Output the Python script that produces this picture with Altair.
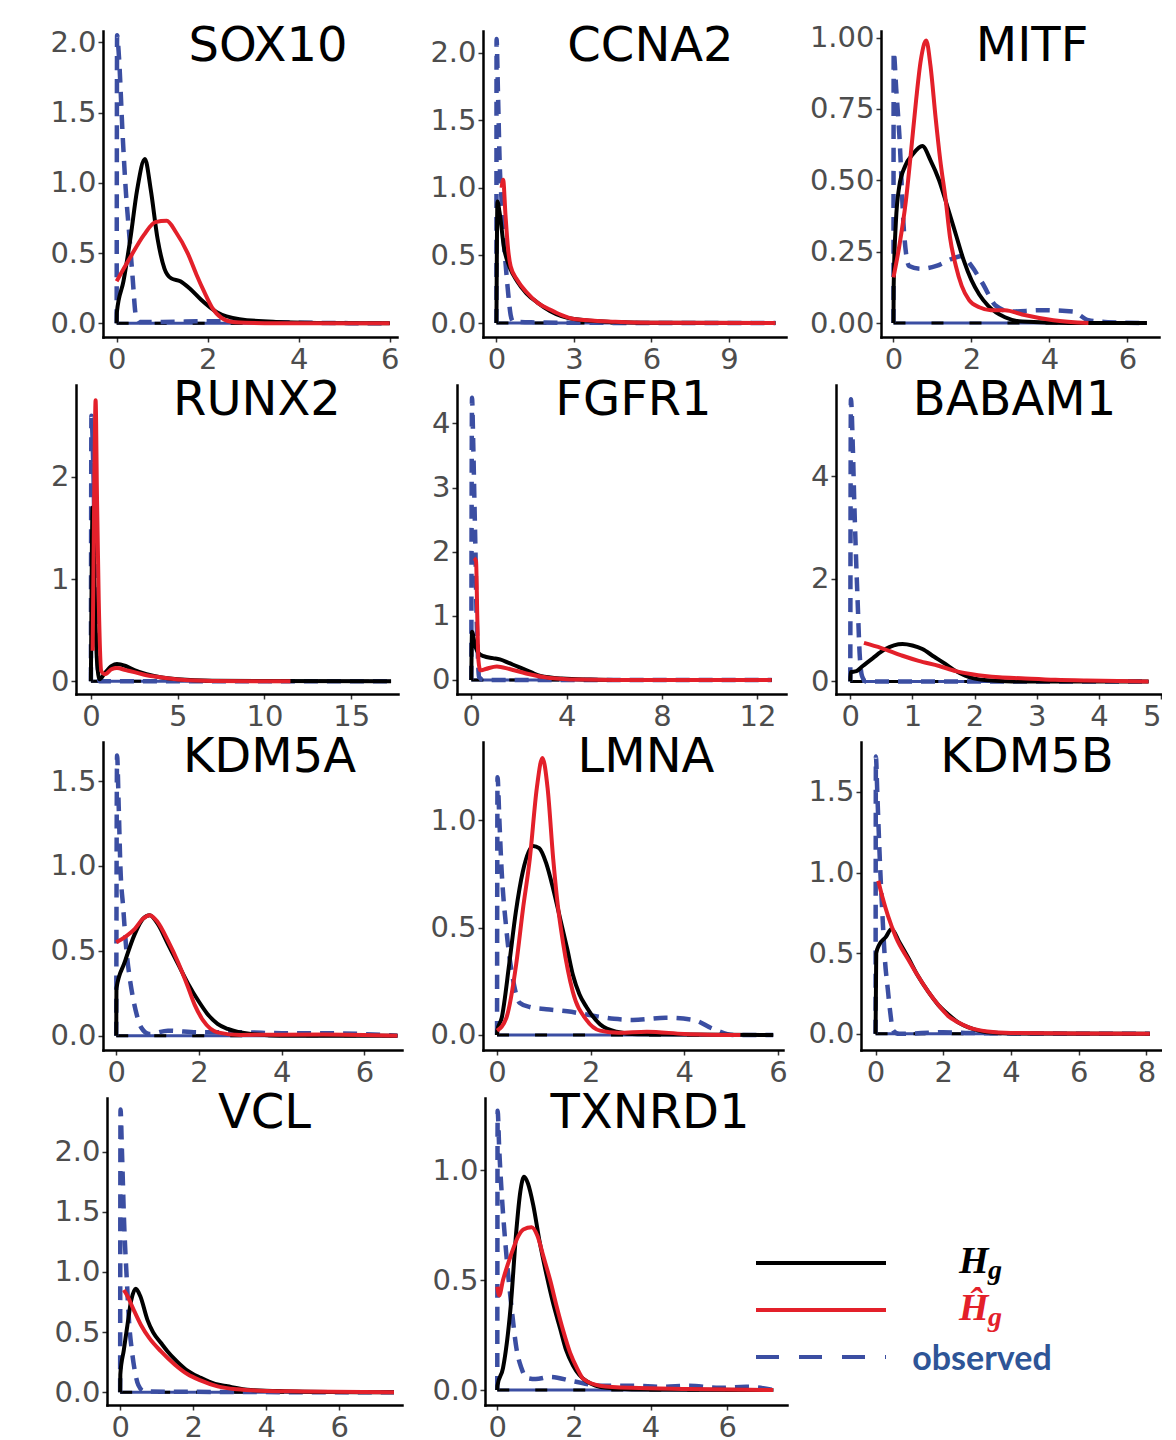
import altair as alt
import pandas as pd

# ---------------- data ----------------
GENES = ["SOX10", "CCNA2", "MITF", "RUNX2", "FGFR1", "BABAM1",
         "KDM5A", "LMNA", "KDM5B", "VCL", "TXNRD1"]

SOX10_OBS = [(0, 0), (0.01, 2.05), (0.05, 1.9), (0.13, 1.35), (0.2, 0.95), (0.28, 0.62), (0.35, 0.33),
             (0.42, 0.06), (0.5, 0.01), (1.0, 0.01), (2.0, 0.015), (3.0, 0.01), (4.0, 0.005), (6.0, 0.0)]
SOX10_HG = [(0, 0), (0.005, 0.08), (0.15, 0.3), (0.3, 0.6), (0.45, 0.95), (0.62, 1.17), (0.75, 0.95), (0.9, 0.6),
            (1.05, 0.39), (1.2, 0.32), (1.4, 0.3), (1.6, 0.25), (1.85, 0.17), (2.2, 0.08), (2.7, 0.03),
            (3.5, 0.01), (4.5, 0.003), (6.0, 0.0)]
SOX10_HHAT = [(0, 0.3), (0.3, 0.47), (0.6, 0.63), (0.85, 0.72), (1.1, 0.73), (1.3, 0.65), (1.56, 0.5),
              (1.75, 0.35), (1.93, 0.22), (2.1, 0.11), (2.3, 0.04), (2.6, 0.008), (3.5, 0.0), (6.0, 0.0)]

CCNA2_OBS = [(0, 0), (0.005, 2.1), (0.06, 1.7), (0.13, 1.16), (0.2, 0.9), (0.26, 0.67), (0.35, 0.45),
             (0.45, 0.23), (0.55, 0.06), (0.65, 0.01), (1.5, 0.005), (3.0, 0.002), (10.8, 0.0)]
CCNA2_HG = [(0, 0), (0.04, 0.9), (0.12, 0.82), (0.3, 0.55), (0.5, 0.42), (0.8, 0.31), (1.16, 0.22),
            (1.6, 0.15), (2.07, 0.09), (3.0, 0.03), (4.5, 0.008), (6.0, 0.002), (10.8, 0.0)]
CCNA2_HHAT = [(0.2, 1.0), (0.26, 1.06), (0.35, 0.8), (0.45, 0.55), (0.55, 0.42), (0.8, 0.32), (1.16, 0.23),
              (1.6, 0.15), (2.07, 0.1), (2.5, 0.06), (3.0, 0.03), (4.6, 0.01), (6.0, 0.003), (10.8, 0.0)]

MITF_OBS = [(0, 0), (0.005, 0.95), (0.07, 0.82), (0.15, 0.66), (0.27, 0.32), (0.4, 0.2), (0.7, 0.19),
            (1.1, 0.2), (1.5, 0.225), (1.76, 0.235), (2.0, 0.2), (2.28, 0.14), (2.63, 0.06), (3.0, 0.04),
            (3.8, 0.045), (4.6, 0.04), (5.0, 0.01), (5.5, 0.003), (6.5, 0.0)]
MITF_HG = [(0, 0), (0.005, 0.13), (0.06, 0.35), (0.15, 0.48), (0.3, 0.55), (0.49, 0.59), (0.74, 0.62),
           (0.95, 0.57), (1.17, 0.5), (1.4, 0.4), (1.6, 0.31), (1.8, 0.22), (2.0, 0.15), (2.2, 0.1),
           (2.43, 0.06), (2.86, 0.02), (3.3, 0.005), (4.5, 0.0), (6.5, 0.0)]
MITF_HHAT = [(0, 0.16), (0.15, 0.27), (0.32, 0.43), (0.45, 0.6), (0.58, 0.78), (0.7, 0.92), (0.84, 0.99),
             (0.95, 0.9), (1.08, 0.72), (1.2, 0.57), (1.34, 0.43), (1.45, 0.3), (1.6, 0.2), (1.75, 0.13),
             (1.94, 0.08), (2.2, 0.055), (2.5, 0.045), (2.86, 0.045), (3.3, 0.03), (4.1, 0.01), (5.0, 0.0)]

RUNX2_OBS = [(0, 0), (0.03, 2.6), (0.15, 2.0), (0.3, 0.5), (0.5, 0.0), (17.3, 0.0)]
RUNX2_HG = [(0, 0), (0.1, 1.7), (0.2, 1.0), (0.35, 0.2), (0.5, 0.02), (0.8, 0.08), (1.2, 0.15), (1.5, 0.17),
            (2.0, 0.15), (2.5, 0.11), (3.2, 0.07), (4.0, 0.04), (5.0, 0.02), (7.0, 0.005), (17.3, 0.0)]
RUNX2_HHAT = [(0.1, 0.3), (0.2, 2.0), (0.27, 2.75), (0.35, 1.8), (0.45, 0.8), (0.6, 0.1), (0.8, 0.07),
              (1.2, 0.12), (1.5, 0.13), (2.0, 0.11), (2.5, 0.09), (3.2, 0.06), (4.0, 0.04), (5.2, 0.015),
              (7.0, 0.003), (11.5, 0.0)]

FGFR1_OBS = [(0, 0), (0.03, 4.4), (0.08, 3.7), (0.13, 2.8), (0.18, 1.9), (0.21, 1.2), (0.27, 0.45),
             (0.32, 0.05), (0.5, 0.0), (12.6, 0.0)]
FGFR1_HG = [(0, 0), (0.03, 0.75), (0.15, 0.55), (0.3, 0.42), (0.52, 0.37), (0.9, 0.34), (1.2, 0.32),
            (1.6, 0.26), (2.0, 0.2), (2.5, 0.12), (2.9, 0.06), (3.8, 0.02), (5.0, 0.005), (6.0, 0.0), (12.6, 0.0)]
FGFR1_HHAT = [(0.12, 1.9), (0.2, 1.85), (0.25, 1.0), (0.3, 0.3), (0.38, 0.15), (0.6, 0.17), (1.07, 0.21),
              (1.6, 0.17), (2.3, 0.1), (3.3, 0.03), (4.5, 0.005), (6.0, 0.0), (12.6, 0.0)]

BABAM1_OBS = [(0, 0), (0.01, 5.5), (0.04, 4.6), (0.064, 3.5), (0.09, 2.5), (0.12, 1.5), (0.15, 0.55),
              (0.19, 0.1), (0.25, 0.0), (4.8, 0.0)]
BABAM1_HG = [(0, 0), (0.005, 0.18), (0.1, 0.2), (0.2, 0.3), (0.36, 0.45), (0.55, 0.62), (0.84, 0.73),
             (1.0, 0.7), (1.16, 0.63), (1.35, 0.48), (1.53, 0.34), (1.7, 0.2), (1.85, 0.11), (2.2, 0.02),
             (2.6, 0.0), (4.8, 0.0)]
BABAM1_HHAT = [(0.22, 0.75), (0.5, 0.65), (0.84, 0.5), (1.1, 0.4), (1.43, 0.3), (1.7, 0.2), (1.96, 0.14),
               (2.4, 0.08), (2.75, 0.06), (3.3, 0.03), (3.8, 0.015), (4.8, 0.0)]

KDM5A_OBS = [(0, 0), (0.02, 1.65), (0.06, 1.35), (0.1, 1.0), (0.17, 0.75), (0.24, 0.52), (0.32, 0.35),
             (0.4, 0.23), (0.5, 0.12), (0.6, 0.05), (0.8, 0.01), (1.25, 0.03), (2.0, 0.02), (3.0, 0.02),
             (4.0, 0.015), (5.0, 0.015), (6.8, 0.0)]
KDM5A_HG = [(0, 0), (0.005, 0.28), (0.2, 0.43), (0.45, 0.6), (0.65, 0.69), (0.81, 0.71), (1.0, 0.66),
            (1.25, 0.54), (1.5, 0.42), (1.73, 0.31), (2.0, 0.2), (2.2, 0.13), (2.45, 0.07), (2.7, 0.04),
            (3.26, 0.01), (4.0, 0.0), (6.8, 0.0)]
KDM5A_HHAT = [(0, 0.55), (0.2, 0.58), (0.45, 0.63), (0.65, 0.69), (0.81, 0.71), (1.0, 0.67), (1.25, 0.56),
              (1.5, 0.43), (1.73, 0.29), (1.9, 0.18), (2.1, 0.09), (2.45, 0.02), (3.0, 0.005), (5.0, 0.008),
              (6.8, 0.0)]

LMNA_OBS = [(0, 0), (0.01, 1.2), (0.05, 1.0), (0.09, 0.8), (0.2, 0.49), (0.34, 0.26), (0.48, 0.15),
            (0.7, 0.13), (1.05, 0.12), (1.5, 0.11), (2.05, 0.09), (2.5, 0.075), (2.9, 0.07), (3.6, 0.08),
            (4.2, 0.07), (4.6, 0.03), (5.05, 0.0), (5.9, 0.0)]
LMNA_HG = [(0, 0), (0.005, 0.02), (0.1, 0.08), (0.26, 0.33), (0.4, 0.57), (0.55, 0.76), (0.77, 0.88),
           (0.9, 0.87), (1.05, 0.8), (1.2, 0.68), (1.34, 0.55), (1.5, 0.4), (1.62, 0.28), (1.76, 0.19),
           (1.91, 0.13), (2.2, 0.05), (2.55, 0.015), (3.0, 0.003), (5.9, 0.0)]
LMNA_HHAT = [(0, 0.02), (0.2, 0.08), (0.41, 0.33), (0.55, 0.58), (0.7, 0.82), (0.85, 1.15), (0.97, 1.29),
             (1.08, 1.15), (1.2, 0.82), (1.3, 0.6), (1.41, 0.43), (1.62, 0.2), (1.91, 0.07), (2.2, 0.02),
             (2.6, 0.01), (3.2, 0.015), (4.0, 0.005), (5.2, 0.0)]

KDM5B_OBS = [(0, 0), (0.01, 1.72), (0.05, 1.5), (0.13, 1.06), (0.2, 0.75), (0.28, 0.45), (0.36, 0.28),
             (0.43, 0.14), (0.52, 0.02), (0.7, 0.0), (2.0, 0.01), (3.0, 0.005), (8.1, 0.0)]
KDM5B_HG = [(0, 0), (0.02, 0.5), (0.1, 0.55), (0.3, 0.6), (0.47, 0.65), (0.7, 0.57), (0.97, 0.47),
            (1.25, 0.36), (1.56, 0.26), (1.85, 0.18), (2.15, 0.12), (2.45, 0.07), (2.75, 0.04), (3.3, 0.01),
            (4.0, 0.003), (8.1, 0.0)]
KDM5B_HHAT = [(0.08, 0.95), (0.2, 0.85), (0.37, 0.73), (0.6, 0.6), (0.97, 0.46), (1.25, 0.36), (1.56, 0.26),
              (1.85, 0.18), (2.15, 0.11), (2.45, 0.07), (2.75, 0.04), (3.3, 0.015), (4.0, 0.006), (6.0, 0.003),
              (8.1, 0.0)]

VCL_OBS = [(0, 0), (0.01, 2.35), (0.05, 2.0), (0.11, 1.4), (0.18, 0.95), (0.25, 0.56), (0.32, 0.35),
           (0.39, 0.2), (0.5, 0.06), (0.65, 0.01), (1.5, 0.005), (7.5, 0.0)]
VCL_HG = [(0, 0), (0.005, 0.15), (0.1, 0.35), (0.2, 0.56), (0.3, 0.76), (0.43, 0.86), (0.55, 0.8),
          (0.75, 0.6), (0.9, 0.5), (1.12, 0.41), (1.3, 0.34), (1.48, 0.28), (1.8, 0.19), (2.21, 0.12),
          (2.6, 0.07), (2.94, 0.05), (3.58, 0.02), (4.5, 0.01), (7.5, 0.0)]
VCL_HHAT = [(0.1, 0.85), (0.2, 0.8), (0.35, 0.7), (0.57, 0.56), (0.8, 0.45), (1.12, 0.34), (1.5, 0.23),
            (1.85, 0.15), (2.2, 0.1), (2.67, 0.05), (3.2, 0.025), (4.0, 0.012), (5.0, 0.008), (7.5, 0.0)]

TXNRD1_OBS = [(0, 0), (0.01, 1.27), (0.05, 1.1), (0.11, 0.91), (0.24, 0.61), (0.37, 0.38), (0.5, 0.19),
              (0.63, 0.1), (0.77, 0.055), (1.0, 0.05), (1.38, 0.06), (1.98, 0.04), (2.68, 0.02), (3.55, 0.02),
              (4.3, 0.015), (5.0, 0.02), (5.8, 0.01), (6.5, 0.015), (7.2, 0.0)]
TXNRD1_HG = [(0, 0), (0.005, 0.02), (0.15, 0.1), (0.35, 0.38), (0.5, 0.73), (0.6, 0.9), (0.7, 0.97),
             (0.8, 0.94), (0.94, 0.84), (1.1, 0.68), (1.29, 0.52), (1.45, 0.4), (1.64, 0.28), (1.8, 0.18),
             (1.98, 0.11), (2.33, 0.04), (2.85, 0.01), (3.5, 0.003), (7.2, 0.0)]
TXNRD1_HHAT = [(0, 0.47), (0.05, 0.43), (0.15, 0.5), (0.35, 0.61), (0.55, 0.7), (0.68, 0.73), (0.9, 0.74),
               (1.05, 0.7), (1.2, 0.61), (1.38, 0.5), (1.55, 0.38), (1.72, 0.27), (1.9, 0.17), (2.08, 0.1),
               (2.25, 0.05), (2.68, 0.02), (3.5, 0.01), (5.0, 0.005), (7.2, 0.0)]

# axis tick values and ranges per panel
X_TICKS = [[0, 2, 4, 6], [0, 3, 6, 9], [0, 2, 4, 6],
           [0, 5, 10, 15], [0, 4, 8, 12], [0, 1, 2, 3, 4, 5],
           [0, 2, 4, 6], [0, 2, 4, 6], [0, 2, 4, 6, 8],
           [0, 2, 4, 6], [0, 2, 4, 6]]
Y_TICKS = [[0, 0.5, 1.0, 1.5, 2.0], [0, 0.5, 1.0, 1.5, 2.0], [0, 0.25, 0.5, 0.75, 1.0],
           [0, 1, 2], [0, 1, 2, 3, 4], [0, 2, 4],
           [0, 0.5, 1.0, 1.5], [0, 0.5, 1.0], [0, 0.5, 1.0, 1.5],
           [0, 0.5, 1.0, 1.5, 2.0], [0, 0.5, 1.0]]
Y_FORMAT = [".1f", ".1f", ".2f", "d", "d", "d", ".1f", ".1f", ".1f", ".1f", ".1f"]
X_RANGE = [[-0.30, 6.16], [-0.52, 11.21], [-0.32, 6.81],
           [-0.86, 17.7], [-0.60, 13.2], [-0.23, 5.0],
           [-0.32, 6.91], [-0.30, 6.11], [-0.43, 8.43],
           [-0.36, 7.72], [-0.32, 7.56]]
Y_RANGE = [[-0.097, 2.08], [-0.103, 2.16], [-0.049, 1.023],
           [-0.124, 2.9], [-0.22, 4.6], [-0.246, 5.78],
           [-0.084, 1.73], [-0.07, 1.364], [-0.10, 1.81],
           [-0.105, 2.445], [-0.068, 1.328]]

SERIES = {
    "SOX10": (SOX10_OBS, SOX10_HG, SOX10_HHAT), "CCNA2": (CCNA2_OBS, CCNA2_HG, CCNA2_HHAT),
    "MITF": (MITF_OBS, MITF_HG, MITF_HHAT), "RUNX2": (RUNX2_OBS, RUNX2_HG, RUNX2_HHAT),
    "FGFR1": (FGFR1_OBS, FGFR1_HG, FGFR1_HHAT), "BABAM1": (BABAM1_OBS, BABAM1_HG, BABAM1_HHAT),
    "KDM5A": (KDM5A_OBS, KDM5A_HG, KDM5A_HHAT), "LMNA": (LMNA_OBS, LMNA_HG, LMNA_HHAT),
    "KDM5B": (KDM5B_OBS, KDM5B_HG, KDM5B_HHAT), "VCL": (VCL_OBS, VCL_HG, VCL_HHAT),
    "TXNRD1": (TXNRD1_OBS, TXNRD1_HG, TXNRD1_HHAT),
}

LEGEND_KEYS = ["Hg", "Hhat", "observed"]
LEGEND_MAIN = ["H", "Ĥ", ""]
LEGEND_SUB = ["g", "g", ""]
LEGEND_WORD = ["", "", "observed"]

# ---------------- styles / layout ----------------
BLACK = "#000000"
RED = "#E3202A"
BLUE = "#3B4EA2"
TEXT_BLUE = "#2E5597"
FONT = "DejaVu Sans"

PANEL_W = [294, 303, 278, 322, 329, 325, 299, 300, 300, 295, 302]
ROW_H = [306, 309, 308, 307]
# space reserved left of each panel's y axis: places every panel where the reference has it
Y_EXT = [93, 117, 128, 66, 118, 109, 93, 117, 108, 97, 115]
TITLE_DX = [18, 16, 12, 20, 12, 16, 17, 13, 16, 10, 14]
FLUSH_X = [False, False, False, False, False, True, False, False, False, False, False]
SPACER_W = 60
COL_GAP = -60
ROW_GAP = 3


def pairs_df(pairs):
    return pd.DataFrame({"x": [p[0] for p in pairs], "y": [p[1] for p in pairs],
                         "i": list(range(len(pairs)))})


def make_panel(k, height):
    gene = GENES[k]
    obs, hg, hhat = SERIES[gene]
    width = PANEL_W[k]
    xend = max(p[0] for p in obs + hg + hhat)
    base = pd.DataFrame({"x": [0.0, xend], "y": [0.0, 0.0], "i": [0, 1]})
    x_enc = alt.X("x:Q",
                  scale=alt.Scale(domain=X_RANGE[k], nice=False, zero=False),
                  axis=alt.Axis(values=X_TICKS[k], format="d", labelFlush=FLUSH_X[k], labelPadding=3,
                                title=".", titleColor="#ffffff", titleFontSize=1, titlePadding=0,
                                minExtent=36, maxExtent=36))
    y_enc = alt.Y("y:Q",
                  scale=alt.Scale(domain=Y_RANGE[k], nice=False, zero=False),
                  axis=alt.Axis(values=Y_TICKS[k], format=Y_FORMAT[k],
                                title=".", titleColor="#ffffff", titleFontSize=1, titlePadding=0,
                                minExtent=Y_EXT[k], maxExtent=Y_EXT[k]))
    enc = dict(x=x_enc, y=y_enc, order=alt.Order("i:Q"))
    l_base = alt.Chart(base).mark_line(color=BLUE, strokeWidth=3, clip=True).encode(**enc)
    l_base2 = alt.Chart(base).mark_line(color=BLACK, strokeWidth=3, strokeDash=[12, 26],
                                        clip=True).encode(**enc)
    l_obs = alt.Chart(pairs_df(obs)).mark_line(color=BLUE, strokeWidth=4.5, strokeDash=[14, 9],
                                               interpolate="monotone", clip=True).encode(**enc)
    l_hg = alt.Chart(pairs_df(hg)).mark_line(color=BLACK, strokeWidth=4, interpolate="monotone",
                                             clip=True).encode(**enc)
    l_hh = alt.Chart(pairs_df(hhat)).mark_line(color=RED, strokeWidth=4, interpolate="monotone",
                                               clip=True).encode(**enc)
    ttl = alt.Chart(pd.DataFrame({"g": [gene]})).mark_text(
        font=FONT, fontSize=48, align="center", baseline="alphabetic", color="black").encode(
        x=alt.value(width / 2 + TITLE_DX[k]), y=alt.value(30), text="g:N")
    return alt.layer(l_base, l_base2, l_obs, l_hg, l_hh, ttl).properties(width=width, height=height)


def make_spacer(height):
    return alt.Chart(pd.DataFrame({"s": [0]})).mark_point(opacity=0, size=1).encode(
        x=alt.value(0), y=alt.value(0)).properties(width=SPACER_W, height=height)


def make_legend(height):
    df = pd.DataFrame({"item": [0, 1, 2], "key": LEGEND_KEYS, "main": LEGEND_MAIN,
                       "sub": LEGEND_SUB, "word": LEGEND_WORD})
    ly = alt.Y("item:Q", scale=alt.Scale(domain=[-3.51, 3.02], reverse=True), axis=None)
    col = alt.Color("key:N", scale=alt.Scale(domain=LEGEND_KEYS, range=[BLACK, RED, BLUE]), legend=None)
    lines = alt.Chart(df).mark_rule(strokeWidth=4).encode(
        y=ly, x=alt.value(0), x2=alt.value(130), color=col,
        strokeDash=alt.StrokeDash("key:N", scale=alt.Scale(domain=LEGEND_KEYS,
                                                           range=[[1, 0], [1, 0], [23, 20]]), legend=None))
    main = alt.Chart(df).transform_filter("datum.item < 2").mark_text(
        font="Liberation Serif", fontStyle="italic", fontWeight="bold", fontSize=38,
        align="left", baseline="alphabetic", dy=10).encode(
        x=alt.value(203), y=ly, text="main:N", color=col)
    sub = alt.Chart(df).transform_filter("datum.item < 2").mark_text(
        font="Liberation Serif", fontStyle="italic", fontWeight="bold", fontSize=28,
        align="left", baseline="alphabetic", dy=16).encode(
        x=alt.value(232), y=ly, text="sub:N", color=col)
    word = alt.Chart(df).transform_filter("datum.item == 2").mark_text(
        font="Lato", fontWeight="bold", fontSize=34, align="center", baseline="middle",
        dy=3, color=TEXT_BLUE).encode(x=alt.value(226), y=ly, text="word:N")
    return alt.layer(lines, main, sub, word).properties(width=320, height=height)


cells = []
for r in range(4):
    cells.append(make_spacer(ROW_H[r]))
    for c in range(3):
        k = 3 * r + c
        if k < len(GENES):
            cells.append(make_panel(k, ROW_H[r]))
        else:
            cells.append(make_legend(ROW_H[r]))

chart = alt.concat(
    *cells, columns=4, bounds="full",
    align={"row": "each", "column": "none"},
    spacing={"row": ROW_GAP, "column": COL_GAP},
).properties(
    padding={"left": 0, "top": 15, "right": 0, "bottom": 0}
).configure_view(stroke=None).configure_axis(
    grid=False, domainColor="black", domainWidth=2.5, domainCap="square",
    tickColor="#333333", tickWidth=1.5, tickSize=5,
    labelFont=FONT, labelFontSize=29, labelColor="#4D4D4D", labelPadding=2,
)

chart.save("out.html", embed_options={"renderer": "svg", "actions": False})
